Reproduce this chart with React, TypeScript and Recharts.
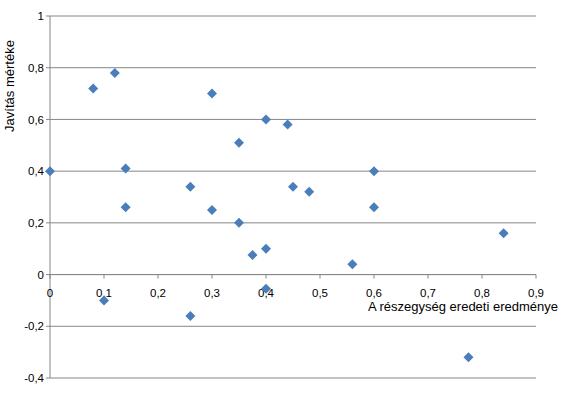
import React from "react";
import {
  CartesianGrid,
  ReferenceDot,
  ReferenceLine,
  Scatter,
  ScatterChart,
  XAxis,
  YAxis,
} from "recharts";

const xValues = [
  0, 0.08, 0.12, 0.14, 0.14, 0.1, 0.26, 0.26, 0.3, 0.3, 0.35, 0.35, 0.375,
  0.4, 0.4, 0.4, 0.44, 0.45, 0.48, 0.6, 0.6, 0.56, 0.84, 0.775,
];
const yValues = [
  0.4, 0.72, 0.78, 0.41, 0.26, -0.1, 0.34, -0.16, 0.7, 0.25, 0.51, 0.2, 0.076,
  0.6, 0.1, -0.055, 0.58, 0.34, 0.32, 0.4, 0.26, 0.04, 0.16, -0.32,
];
const xTicks = [0, 0.1, 0.2, 0.3, 0.4, 0.5, 0.6, 0.7, 0.8, 0.9];
const yTicks = [-0.4, -0.2, 0, 0.2, 0.4, 0.6, 0.8, 1];

const xTitle = "A részegység eredeti eredménye";
const yTitle = "Javítás mértéke";

const FONT = "'Liberation Sans', Arial, sans-serif";
const AXIS = "#868686";
const DOT = "#4A7EBB";

const fmt = (v: number) => String(v).replace(".", ",");

const Diamond = ({ cx, cy }: any) => (
  <polygon
    points={`${cx},${cy - 5} ${cx + 5},${cy} ${cx},${cy + 5} ${cx - 5},${cy}`}
    fill={DOT}
  />
);

const XTickMark = ({ cx, cy, label }: any) => (
  <g>
    <line x1={cx} y1={cy} x2={cx} y2={cy + 4} stroke={AXIS} />
    <text
      x={cx}
      y={cy + 22}
      textAnchor="middle"
      fontSize={11.5}
      fontFamily={FONT}
      fill="#000"
    >
      {label}
    </text>
  </g>
);

export default function App() {
  const data = xValues.map((x, i) => ({ x, y: yValues[i] }));
  return (
    <div style={{ position: "absolute", left: 0, top: 0, background: "#fff" }}>
      <ScatterChart
        width={569}
        height={397}
        margin={{ top: 16, right: 33, bottom: 19, left: 8 }}
      >
        <CartesianGrid vertical={false} stroke={AXIS} strokeWidth={1} />
        <XAxis
          type="number"
          dataKey="x"
          domain={[0, 0.9]}
          ticks={xTicks}
          hide
        />
        <YAxis
          type="number"
          dataKey="y"
          domain={[-0.4, 1]}
          ticks={yTicks}
          width={42}
          stroke={AXIS}
          tickLine={{ stroke: AXIS }}
          tickSize={4}
          tickFormatter={fmt}
          tick={{ fill: "#000", fontSize: 11.5, fontFamily: FONT }}
          label={{
            content: () => (
              <text
                x={14}
                y={86}
                transform="rotate(-90, 14, 86)"
                textAnchor="middle"
                fontSize={13}
                fontFamily={FONT}
                fill="#000"
              >
                {yTitle}
              </text>
            ),
          }}
        />
        <ReferenceLine
          y={0}
          stroke={AXIS}
          label={{
            content: ({ viewBox }: any) => (
              <text
                x={viewBox.x + viewBox.width + 22}
                y={viewBox.y + 36}
                textAnchor="end"
                fontSize={13}
                fontFamily={FONT}
                fill="#000"
              >
                {xTitle}
              </text>
            ),
          }}
        />
        {xTicks.map((t) => (
          <ReferenceDot
            key={t}
            x={t}
            y={0}
            shape={(p: any) => <XTickMark {...p} label={fmt(t)} />}
          />
        ))}
        <Scatter data={data} shape={<Diamond />} isAnimationActive={false} />
      </ScatterChart>
    </div>
  );
}
